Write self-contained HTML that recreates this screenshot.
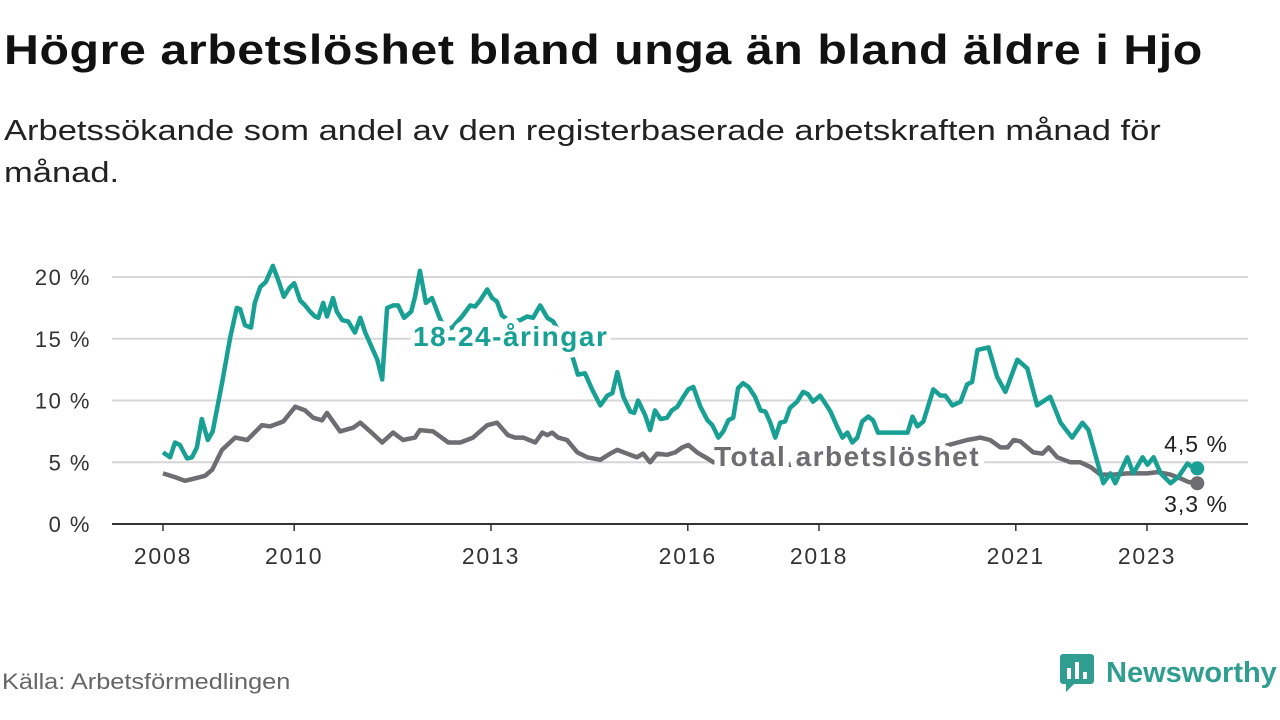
<!DOCTYPE html>
<html><head><meta charset="utf-8"><style>
body{margin:0;width:1280px;height:720px;background:#fff;overflow:hidden;font-family:"Liberation Sans",sans-serif}
.t{position:absolute;left:4px;top:26px;font-size:42px;font-weight:bold;color:#111;margin:0;letter-spacing:0.5px;transform:scaleX(1.15);transform-origin:left top;white-space:nowrap}
.s{position:absolute;left:4px;top:110px;font-size:29px;color:#222;line-height:42px;width:1000px;transform:scaleX(1.19);transform-origin:left top}
.src{position:absolute;left:2px;top:669px;font-size:22px;color:#666;transform:scaleX(1.15);transform-origin:left top}
.logo{position:absolute;left:1060px;top:654px;display:flex;align-items:center}
.logo span{font-size:29px;font-weight:bold;color:#2f9e90;margin-left:12px}
svg{position:absolute;left:0;top:0}
</style></head><body>
<h1 class="t">Högre arbetslöshet bland unga än bland äldre i Hjo</h1>
<div class="s">Arbetssökande som andel av den registerbaserade arbetskraften månad för<br>månad.</div>
<svg id="chart" width="1280" height="720"></svg>
<div class="src">Källa: Arbetsförmedlingen</div>
<div class="logo">
<svg style="position:static" width="34" height="38" viewBox="0 0 34 38"><rect x="0" y="0" width="34" height="30" rx="3" fill="#2f9e90"/><polygon points="6,30 14,30 6,38" fill="#2f9e90"/><rect x="7" y="14" width="4" height="11" fill="#fff"/><rect x="15" y="8" width="4" height="17" fill="#fff"/><rect x="23" y="18" width="4" height="7" fill="#fff"/></svg>
<span>Newsworthy</span></div>
<script>
const yTicks=[0,5,10,15,20];
const yTickLabels=["0 %","5 %","10 %","15 %","20 %"];
const xTickMonths=[0,24,60,96,120,156,180];
const xTickLabels=["2008","2010","2013","2016","2018","2021","2023"];
const youthMonths=[0,1.3,2.2,3.1,4.4,5.3,6.2,7.1,8.2,9.1,10.8,12.3,13.5,14.1,15,16.1,16.8,17.8,18.8,20.1,21.2,22.1,23.1,24,25.1,26,26.9,27.8,28.4,29.3,30,31.1,31.8,32.8,33.9,35.1,36.1,37,38.2,39.2,40.1,41,42.1,43,44.1,45.4,46.1,47,48.1,49.2,50.5,51.6,52.9,54.7,56.2,57.1,58,59.3,60.2,61.1,62,63.5,65.3,66.6,67.7,69,70.3,71.4,73.2,75,75.9,77.2,78.5,80,81.3,82.2,83.1,84.2,85.5,86.2,86.9,88.2,89.1,90,91,92.2,93.1,94.1,95.2,96.1,97,98.3,99.6,100.5,101.6,102.5,103.4,104.3,105.2,106.1,107.1,108.3,109.3,110.2,111.1,112,112.9,113.8,114.7,116,117.1,118,118.9,120.2,121.1,122.1,123.3,124.3,125.2,126.1,127,127.9,129,129.9,130.8,132.5,134.9,136.2,137.1,138,139.1,140.9,142.2,143.1,144.4,145.9,147.1,148,149,151,152.6,154.1,156.3,158.1,159.9,162.3,164.2,166.3,168.2,169.3,172,173.3,174.2,176.4,177.5,179.2,180.1,181.2,182.5,184.3,185.7,187.4,188.3,189.2];
const youthValues=[5.8,5.4,6.6,6.4,5.3,5.4,6.2,8.5,6.8,7.5,11.4,15.1,17.5,17.4,16.1,15.9,17.9,19.2,19.6,20.9,19.6,18.4,19.1,19.5,18.1,17.7,17.2,16.8,16.7,17.9,16.8,18.3,17.2,16.5,16.4,15.5,16.7,15.5,14.3,13.3,11.7,17.5,17.7,17.7,16.7,17.2,18.4,20.5,17.9,18.3,16.8,15.7,15.9,16.8,17.7,17.6,18.1,19,18.3,18,16.9,16.4,16.5,16.8,16.7,17.7,16.7,16.4,14.9,13.4,12.1,12.2,10.9,9.6,10.4,10.6,12.3,10.3,9.1,9,10,8.8,7.6,9.2,8.5,8.6,9.2,9.5,10.3,10.9,11.1,9.5,8.4,8,7,7.5,8.4,8.6,11,11.4,11.1,10.3,9.2,9.1,8.2,7,8.2,8.3,9.4,9.9,10.7,10.5,9.9,10.4,9.8,9.1,7.9,7,7.4,6.6,7,8.3,8.7,8.4,7.4,7.4,7.4,7.4,8.7,7.9,8.3,10.9,10.4,10.4,9.6,9.9,11.3,11.5,14.1,14.3,11.9,10.7,13.3,12.6,9.6,10.3,8.2,7,8.2,7.6,3.3,4.1,3.3,5.4,4.1,5.4,4.8,5.4,4.1,3.3,3.8,4.9,4.6,4.5];
const totalMonths=[0,2.2,4,5.9,7.7,9,10.8,13.2,15.4,18.1,19.6,22,24.2,26,27.5,29.1,30,32.4,34.8,36.1,37.9,40.1,42.1,43.9,46.1,47,49.4,52.2,54.4,56.7,59.3,61.1,63.1,64.4,65.9,68.1,69.4,70.3,71.2,72.3,73.9,75.8,77.6,80,81.8,83.1,84.9,86.7,87.8,89.1,90.4,92.2,93.7,95,96.1,97.7,99.6,100.7,109.3,120.2,131.2,140.4,147.1,149.5,151.3,153.2,154.5,155.6,156.8,159.2,160.9,162,163.6,166,167.8,169.7,171.5,173.9,176.4,180.1,181.9,184.3,186.1,187.6,189.2];
const totalValues=[4.1,3.8,3.5,3.7,3.9,4.4,6,7,6.8,8,7.9,8.3,9.5,9.2,8.6,8.4,9,7.5,7.8,8.2,7.5,6.6,7.4,6.8,7,7.6,7.5,6.6,6.6,7,8,8.2,7.2,7,7,6.6,7.4,7.2,7.4,7,6.8,5.8,5.4,5.2,5.7,6,5.7,5.4,5.7,5,5.7,5.6,5.8,6.2,6.4,5.8,5.3,5,4.8,4.8,5.2,6,6.8,7,6.8,6.2,6.2,6.8,6.7,5.8,5.7,6.2,5.4,5,5,4.6,4,4,4.1,4.1,4.2,4,3.7,3.4,3.3];

const NS="http://www.w3.org/2000/svg";
const svg=document.getElementById('chart');
const X=m=>163+m*(65.6/12);
const Y=v=>524-v*12.35;
function mk(tag,attrs){const e=document.createElementNS(NS,tag);for(const k in attrs)e.setAttribute(k,attrs[k]);svg.appendChild(e);return e;}
yTicks.forEach((v,i)=>{
  if(v>0){const g=mk('line',{x1:112,x2:1248,y1:Y(v),y2:Y(v),stroke:'#d6d6d6','stroke-width':2});
  
  }
  const t=mk('text',{x:91,y:Y(v)+8,'text-anchor':'end','font-size':22,'letter-spacing':1.5,fill:'#333','font-family':'Liberation Sans, sans-serif'});
  t.textContent=yTickLabels[i];
  
  
});
const ax=mk('line',{x1:112,x2:1248,y1:524,y2:524,stroke:'#333','stroke-width':2});


xTickMonths.forEach((m,i)=>{
  const tk=mk('line',{x1:X(m),x2:X(m),y1:524,y2:531,stroke:'#333','stroke-width':1.5});
  
  
  const t=mk('text',{x:X(m),y:564,'text-anchor':'middle','font-size':23,'letter-spacing':1.8,fill:'#333','font-family':'Liberation Sans, sans-serif'});
  t.textContent=xTickLabels[i];
  
  
});
function path(ms,vs){return ms.map((m,i)=>(i?'L':'M')+X(m).toFixed(1)+','+Y(vs[i]).toFixed(1)).join('');}
const tl=mk('path',{d:path(totalMonths,totalValues),fill:'none',stroke:'#6d6d72','stroke-width':4.5,'stroke-linejoin':'round'});


const yl=mk('path',{d:path(youthMonths,youthValues),fill:'none',stroke:'#17a093','stroke-width':4.5,'stroke-linejoin':'round'});


const lt=totalMonths.length-1, ly=youthMonths.length-1;
const d1=mk('circle',{cx:X(totalMonths[lt]),cy:Y(totalValues[lt]),r:7,fill:'#6d6d72'});


const d2=mk('circle',{cx:X(youthMonths[ly]),cy:Y(youthValues[ly]),r:7,fill:'#17a093'});


function lab(txt,x,y,fill,name,bold,anchor){
  const a={x:x,y:y,'font-size':bold?28:23,fill:fill,'font-family':'Liberation Sans, sans-serif','text-anchor':anchor||'start','letter-spacing':bold?1.5:1};
  if(bold){a['font-weight']='bold';a.stroke='#fff';a['stroke-width']=12;a['paint-order']='stroke';a['stroke-linejoin']='round';}
  const t=mk('text',a);t.textContent=txt;
  
  
}
lab('18-24-åringar',413,346,'#17a093','youth-series-label',true);
lab('Total arbetslöshet',714,466,'#6d6d72','total-series-label',true);
lab('4,5 %',1196,452,'#222','youth-end-value',false,'middle');
lab('3,3 %',1196,512,'#222','total-end-value',false,'middle');
</script>
</body></html>
